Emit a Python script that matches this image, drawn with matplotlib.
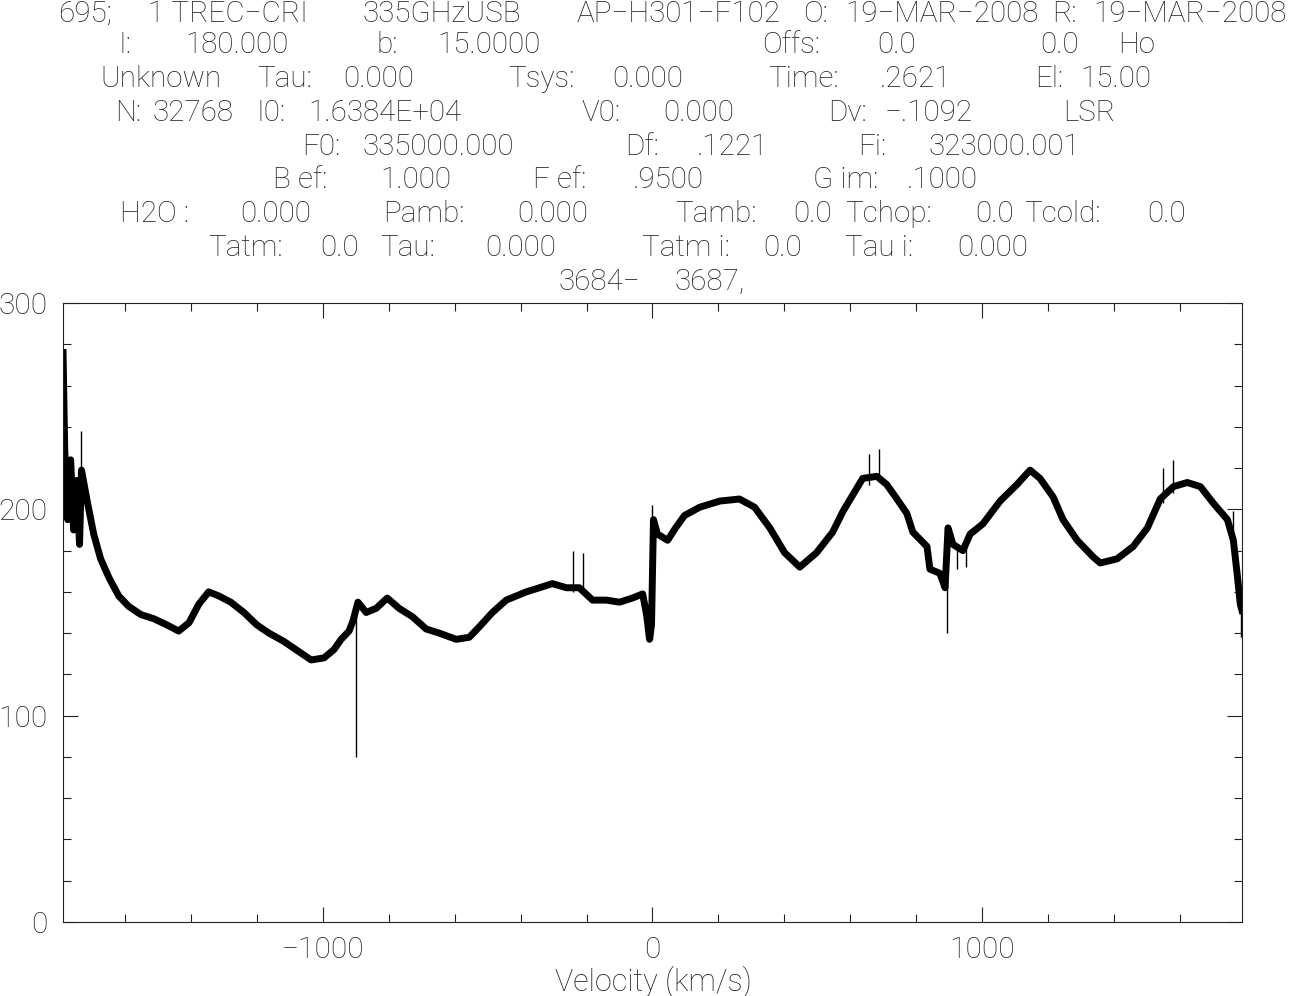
import matplotlib
matplotlib.use("Agg")
import matplotlib.pyplot as plt
from matplotlib.ticker import MultipleLocator

# spectrum baseline (velocity km/s, T)
velocity = [-1789, -1784, -1775, -1766, -1757, -1748, -1739, -1733, -1717, -1696,
            -1675, -1650, -1620, -1590, -1553, -1514, -1474, -1438, -1407, -1377,
            -1347, -1316, -1280, -1240, -1201, -1164, -1119, -1073, -1036, -997,
            -967, -945, -921, -909, -894, -869, -839, -805, -769, -729,
            -687, -647, -596, -556, -526, -486, -444, -383, -343, -304,
            -261, -222, -182, -140, -100, -61, -30, -18, -9, -3,
            3, 15, 46, 70, 97, 143, 204, 264, 310, 356,
            401, 447, 498, 547, 578, 608, 638, 681, 711, 742,
            772, 790, 833, 842, 872, 888, 897, 912, 942, 964,
            1003, 1055, 1106, 1146, 1176, 1216, 1246, 1289, 1337, 1359,
            1410, 1459, 1502, 1541, 1581, 1623, 1663, 1702, 1745, 1763,
            1775, 1784, 1789]
intensity = [276, 229, 195, 224, 190, 214, 183, 219, 205, 188,
             176, 167, 158, 153, 149, 147, 144, 141, 145, 154,
             160, 158, 155, 150, 144, 140, 136, 131, 127, 128,
             132, 137, 141, 146, 155, 150, 152, 157, 152, 148,
             142, 140, 137, 138, 143, 150, 156, 160, 162, 164,
             162, 162, 156, 156, 155, 157, 159, 149, 137, 144,
             195, 188, 185, 191, 197, 201, 204, 205, 201, 191,
             179, 172, 179, 189, 199, 207, 215, 216, 212, 205,
             198, 189, 182, 171, 169, 162, 191, 183, 180, 188,
             193, 204, 212, 219, 215, 206, 195, 185, 177, 174,
             176, 182, 191, 205, 211, 213, 211, 203, 195, 185,
             168, 154, 151]

# narrow spikes (velocity, low, high)
spike_v = [-1736, -900, -240, -210, 0, 657, 687, 894, 924, 951, 1550, 1581, 1763, 1786]
spike_lo = [200, 80, 160, 160, 137, 212, 214, 140, 171, 172, 203, 208, 185, 138]
spike_hi = [238, 154, 180, 179, 202, 227, 229, 165, 182, 182, 220, 224, 199, 160]

x_ticks_major = 1000
x_ticks_minor = 200
y_ticks_major = 100
y_ticks_minor = 20

# header block, rows of (x pixel, text)
header = [
    [(58, "695;"), (148, "1 TREC\u2212CRI"), (362, "335GHzUSB"),
     (577, "AP\u2212H301\u2212F102"), (803, "O:"), (845, "19\u2212MAR\u22122008"),
     (1052, "R:"), (1093, "19\u2212MAR\u22122008")],
    [(118, "I:"), (185, "180.000"), (377, "b:"), (437, "15.0000"),
     (762, "Offs:"), (877, "0.0"), (1040, "0.0"), (1118, "Ho")],
    [(100, "Unknown"), (257, "Tau:"), (343, "0.000"), (508, "Tsys:"),
     (612, "0.000"), (768, "Time:"), (880, ".2621"), (1035, "El:"), (1080, "15.00")],
    [(115, "N:"), (153, "32768"), (257, "I0:"), (308, "1.6384E+04"),
     (582, "V0:"), (663, "0.000"), (828, "Dv:"), (885, "\u2212.1092"), (1063, "LSR")],
    [(302, "F0:"), (362, "335000.000"), (625, "Df:"), (697, ".1221"),
     (858, "Fi:"), (928, "323000.001")],
    [(273, "B ef:"), (380, "1.000"), (533, "F ef:"), (633, ".9500"),
     (813, "G im:"), (907, ".1000")],
    [(120, "H2O :"), (240, "0.000"), (383, "Pamb:"), (517, "0.000"),
     (675, "Tamb:"), (793, "0.0"), (845, "Tchop:"), (975, "0.0"),
     (1024, "Tcold:"), (1147, "0.0")],
    [(208, "Tatm:"), (320, "0.0"), (380, "Tau:"), (485, "0.000"),
     (642, "Tatm i:"), (763, "0.0"), (845, "Tau i:"), (957, "0.000")],
    [(558, "3684\u2212"), (675, "3687,")],
]

plt.rcParams['font.family'] = ['Roboto', 'DejaVu Sans']
plt.rcParams['font.weight'] = 'light'
plt.rcParams['axes.unicode_minus'] = True

W, H = 1290, 996
fig = plt.figure(figsize=(W / 100, H / 100), dpi=100)
ax = fig.add_axes([63 / W, 1 - 922 / H, 1179 / W, 619 / H])

ax.plot(velocity, intensity, color='black', lw=5.0, solid_joinstyle='round')
ax.vlines(spike_v, spike_lo, spike_hi, color='black', lw=1.0)

ax.set_xlim(-1789.2, 1789.2)
ax.set_ylim(0, 300)
ax.xaxis.set_major_locator(MultipleLocator(x_ticks_major))
ax.xaxis.set_minor_locator(MultipleLocator(x_ticks_minor))
ax.yaxis.set_major_locator(MultipleLocator(y_ticks_major))
ax.yaxis.set_minor_locator(MultipleLocator(y_ticks_minor))
ax.tick_params(which='both', direction='in', top=True, right=True,
               width=0.8, colors='#222222', labelsize=21.5, labelcolor='#222222')
ax.tick_params(which='major', length=10.8)
ax.tick_params(which='minor', length=5.8)
ax.tick_params(axis='x', pad=10)
ax.tick_params(axis='y', pad=11)
for s in ax.spines.values():
    s.set_linewidth(0.8)
    s.set_color('#222222')

fig.text(653 / W, 1 - 991 / H, "Velocity (km/s)", ha='center', va='baseline',
         fontsize=22, color='#222222')

for i, row in enumerate(header):
    base = 22 if i == 0 else 19 + 33.9 * i
    for x, s in row:
        fig.text(x / W, 1 - base / H, s, ha='left', va='baseline',
                 fontsize=21.3, color='#222222')

fig.savefig("out.png", dpi=100)
